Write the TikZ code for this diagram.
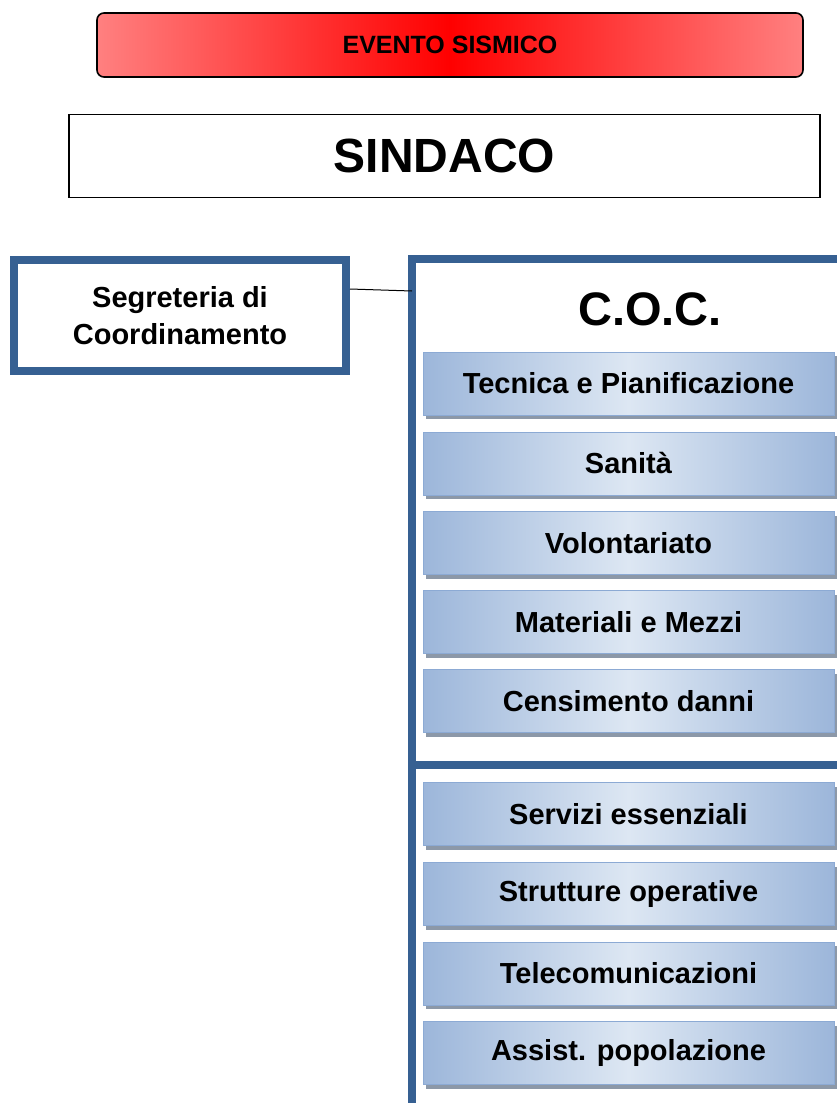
\documentclass[tikz,border=0pt]{standalone}
\usepackage{fontspec}
\setmainfont{Liberation Sans}
\usetikzlibrary{shadows}
\definecolor{cocblue}{RGB}{54,96,146}
\definecolor{itemblue}{RGB}{156,182,218}
\definecolor{itemlight}{RGB}{221,231,243}
\definecolor{itemedge}{RGB}{140,170,212}
\definecolor{shadowgray}{RGB}{140,152,168}
\definecolor{redlight}{RGB}{255,128,128}

\begin{document}
\begin{tikzpicture}[x=1pt,y=-1pt,
    evento/.style={draw=black,line width=1.6pt,rounded corners=7pt,
      left color=redlight,right color=redlight,middle color=red,
      minimum width=706pt,minimum height=64pt,inner sep=0pt,
      font=\bfseries\fontsize{25}{28}\selectfont},
    sindaco/.style={draw=black,line width=1.8pt,fill=white,
      minimum width=751pt,minimum height=83pt,inner sep=0pt,
      font=\bfseries\fontsize{48}{52}\selectfont},
    segreteria/.style={draw=cocblue,line width=8pt,fill=white,
      minimum width=332pt,minimum height=111pt,inner sep=0pt,align=center,
      font=\bfseries\fontsize{29}{37}\selectfont},
    cocline/.style={cocblue,line width=8pt},
    funzione/.style={draw=itemedge,line width=0.8pt,
      left color=itemblue,right color=itemblue,middle color=itemlight,
      drop shadow={shadow xshift=3pt,shadow yshift=-4pt,fill=shadowgray,opacity=1},
      minimum width=411pt,minimum height=63pt,inner sep=0pt,
      font=\bfseries\fontsize{29}{32}\selectfont}]
  \useasboundingbox (0,0) rectangle (837,1103);
  \clip (0,0) rectangle (837,1103);

  % testata
  \node[evento] (evento) at (450,45) {EVENTO SISMICO};
  \node[sindaco] (sindaco) at (444.5,156) {SINDACO};

  % segreteria e C.O.C.
  \node[segreteria] (segr) at (180,315.5) {Segreteria di\\Coordinamento};
  \coordinate (cocbase) at (412,1110);
  \coordinate (cocnw) at (412,259);
  \coordinate (cocne) at (845,259);
  \coordinate (cocmidw) at (412,765);
  \coordinate (cocmide) at (845,765);
  \coordinate (cocin) at (412,291);
  \draw[cocline] (cocbase) -- (cocnw) -- (cocne);
  \draw[cocline] (cocmidw) -- (cocmide);
  \draw[line width=1pt] ([yshift=-33pt]segr.north east) -- (cocin);
  \node[font=\bfseries\fontsize{47}{50}\selectfont] (coc) at (650,309) {C.O.C.};

  % funzioni di supporto
  \foreach \i/\y/\txt in {1/383.5/Tecnica e Pianificazione,2/463.5/Sanità,
      3/543/Volontariato,4/622/Materiali e Mezzi,5/701/Censimento danni,
      6/814/Servizi essenziali,7/894/Strutture operative,
      8/973.5/Telecomunicazioni,9/1053/Assist. popolazione}
    \node[funzione] (f\i) at (628.5,\y) {\txt};
\end{tikzpicture}
\end{document}
